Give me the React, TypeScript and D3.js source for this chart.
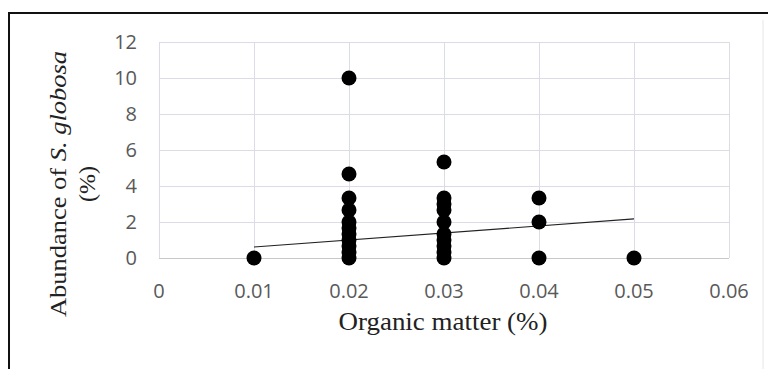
import { useEffect, useRef } from 'react';
import * as d3 from 'd3';

// organic matter (%) for each sample, and abundance of S. globosa (%)
const organicMatter = [
    0.01,
    0.02, 0.02, 0.02, 0.02, 0.02, 0.02, 0.02, 0.02, 0.02, 0.02, 0.02,
    0.03, 0.03, 0.03, 0.03, 0.03, 0.03, 0.03, 0.03, 0.03, 0.03,
    0.04, 0.04, 0.04,
    0.05,
];
const abundance = [
    0,
    10, 4.67, 3.33, 2.67, 2, 1.67, 1.33, 1, 0.67, 0.33, 0,
    5.33, 3.33, 3, 2.67, 2, 1.33, 1, 0.67, 0.33, 0,
    3.33, 2, 0,
    0,
];

// linear trendline as drawn in the chart
const trendX = [0.01, 0.05];
const trendIntercept = 0.22;
const trendSlope = 39;

const xTicks = [0, 0.01, 0.02, 0.03, 0.04, 0.05, 0.06];
const yTicks = [0, 2, 4, 6, 8, 10, 12];

const width = 768;
const height = 369;
const plot = { left: 159, right: 729, top: 42, bottom: 258 };

const App = () => {
    const svgRef = useRef<SVGSVGElement>(null);

    useEffect(() => {
        const svg = d3.select(svgRef.current);
        svg.selectAll('*').remove();

        const x = d3.scaleLinear().domain([0, 0.06]).range([plot.left, plot.right]);
        const y = d3.scaleLinear().domain([0, 12]).range([plot.bottom, plot.top]);

        svg.append('rect')
            .attr('width', width)
            .attr('height', height)
            .attr('fill', '#fff');

        // outer frame
        svg.append('line')
            .attr('x1', 9).attr('x2', 768).attr('y1', 13).attr('y2', 13)
            .attr('stroke', '#111').attr('stroke-width', 2);
        svg.append('line')
            .attr('x1', 9).attr('x2', 9).attr('y1', 12).attr('y2', 369)
            .attr('stroke', '#111').attr('stroke-width', 2);
        svg.append('line')
            .attr('x1', 763).attr('x2', 763).attr('y1', 20).attr('y2', 369)
            .attr('stroke', '#e6e6e6').attr('stroke-width', 1);

        // gridlines
        const grid = svg.append('g').attr('stroke', '#dcdce6').attr('stroke-width', 1);
        grid.selectAll('.h')
            .data(yTicks)
            .join('line')
            .attr('x1', plot.left).attr('x2', plot.right)
            .attr('y1', d => Math.round(y(d)) + 0.5)
            .attr('y2', d => Math.round(y(d)) + 0.5);
        grid.selectAll('.v')
            .data(xTicks)
            .join('line')
            .attr('y1', plot.top).attr('y2', plot.bottom)
            .attr('x1', d => Math.round(x(d)) + 0.5)
            .attr('x2', d => Math.round(x(d)) + 0.5);
        svg.append('line')
            .attr('x1', plot.left).attr('x2', plot.right)
            .attr('y1', plot.bottom + 0.5).attr('y2', plot.bottom + 0.5)
            .attr('stroke', '#c8c8c8');

        // tick labels
        svg.append('g')
            .selectAll('text')
            .data(yTicks)
            .join('text')
            .attr('x', 137)
            .attr('y', d => y(d))
            .attr('dy', '0.36em')
            .attr('text-anchor', 'end')
            .attr('font-family', 'Open Sans, sans-serif')
            .attr('font-size', 20)
            .attr('fill', '#595959')
            .text(d => d);
        svg.append('g')
            .selectAll('text')
            .data(xTicks)
            .join('text')
            .attr('x', d => x(d))
            .attr('y', 291)
            .attr('dy', '0.36em')
            .attr('text-anchor', 'middle')
            .attr('font-family', 'Open Sans, sans-serif')
            .attr('font-size', 20)
            .attr('fill', '#595959')
            .text(d => d);

        // trendline
        const line = d3.line<number>()
            .x(d => x(d))
            .y(d => y(trendIntercept + trendSlope * d));
        svg.append('path')
            .attr('d', line(trendX))
            .attr('fill', 'none')
            .attr('stroke', '#222')
            .attr('stroke-width', 1.2);

        // points
        svg.append('g')
            .selectAll('circle')
            .data(organicMatter)
            .join('circle')
            .attr('cx', d => x(d))
            .attr('cy', (_, i) => y(abundance[i]))
            .attr('r', 7.5)
            .attr('fill', '#000');

        // axis titles
        svg.append('text')
            .attr('x', 443)
            .attr('y', 330)
            .attr('text-anchor', 'middle')
            .attr('font-family', 'Liberation Serif, Times New Roman, serif')
            .attr('font-size', 25)
            .attr('textLength', 209)
            .attr('lengthAdjust', 'spacingAndGlyphs')
            .attr('fill', '#222')
            .text('Organic matter (%)');

        const yTitle = svg.append('g')
            .attr('transform', 'translate(0,184) rotate(-90)')
            .attr('font-family', 'Liberation Serif, Times New Roman, serif')
            .attr('font-size', 24)
            .attr('fill', '#222')
            .attr('text-anchor', 'middle');
        const t1 = yTitle.append('text')
            .attr('x', 0)
            .attr('y', 66)
            .attr('textLength', 266)
            .attr('lengthAdjust', 'spacingAndGlyphs');
        t1.append('tspan').text('Abundance of ');
        t1.append('tspan').attr('font-style', 'italic').text('S. globosa');
        yTitle.append('text').attr('x', 0).attr('y', 95).text('(%)');
    }, []);

    return <svg ref={svgRef} width={width} height={height} style={{ position: 'absolute', left: 0, top: 0 }}></svg>;
};

export default App;
